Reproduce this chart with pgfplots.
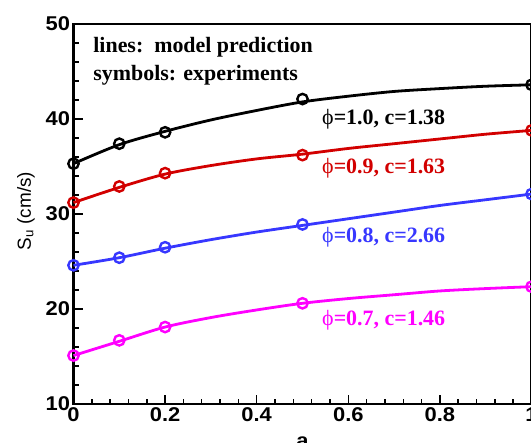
\documentclass[border=0pt]{standalone}
\usepackage{fontspec}
\setmainfont{Liberation Sans}
\newfontfamily\tnr{Liberation Serif}
\newfontfamily\sansw{Liberation Sans}[FakeStretch=1.1]
\usepackage{pgfplots}
\pgfplotsset{compat=1.18}
\definecolor{cred}{RGB}{210,0,0}
\definecolor{cblue}{RGB}{55,55,255}
\definecolor{cmag}{RGB}{255,0,255}
\begin{document}
\begin{tikzpicture}
\path[use as bounding box, clip] (0,0) rectangle (531bp,443bp);
\begin{axis}[
  at={(73.5bp,39bp)}, anchor=south west,
  width=458bp, height=380bp, scale only axis,
  xmin=0, xmax=1, ymin=10, ymax=50,
  xtick={0,0.2,0.4,0.6,0.8,1},
  ytick={10,20,30,40,50},
  minor x tick num=4, minor y tick num=4,
  xtick pos=bottom, ytick pos=left, tick align=inside,
  major tick length=9bp, minor tick length=5bp,
  every tick/.style={line width=1.5bp, black},
  axis line style={line width=2.2bp},
  clip=false,
  /pgf/number format/assume math mode=true,
  tick label style={font=\sansw\fontsize{20}{20}\selectfont\bfseries},
  xlabel={a},
  xlabel style={at={(axis description cs:0.5,0)}, anchor=north, yshift=-29bp, font=\sansw\fontsize{20}{20}\selectfont\bfseries},
  ylabel={S\textsubscript{u} (cm/s)},
  ylabel style={at={(axis description cs:-0.104,0.508)}, anchor=center, font=\fontsize{19}{19}\selectfont},
  every axis plot/.append style={line width=2.8bp},
]
% model lines
\addplot[black, smooth] coordinates {(0,35.3)(0.1,37.3)(0.2,38.7)(0.3,39.9)(0.4,40.9)(0.5,41.8)(0.6,42.4)(0.7,42.9)(0.8,43.2)(0.9,43.45)(1,43.6)};
\addplot[cred, smooth] coordinates {(0,31.2)(0.1,32.8)(0.2,34.2)(0.3,35.1)(0.4,35.8)(0.5,36.3)(0.6,36.9)(0.7,37.4)(0.8,37.9)(0.9,38.4)(1,38.8)};
\addplot[cblue, smooth] coordinates {(0,24.6)(0.1,25.4)(0.2,26.4)(0.3,27.3)(0.4,28.1)(0.5,28.8)(0.6,29.5)(0.7,30.2)(0.8,30.9)(0.9,31.5)(1,32.1)};
\addplot[cmag, smooth] coordinates {(0,15.1)(0.1,16.6)(0.2,18.1)(0.3,19.1)(0.4,19.9)(0.5,20.6)(0.6,21.1)(0.7,21.5)(0.8,21.9)(0.9,22.15)(1,22.35)};
% experiments
\addplot[black, only marks, mark=o, mark size=5.2bp, mark options={line width=2.4bp, fill=white}] coordinates {(0,35.3)(0.1,37.4)(0.2,38.6)(0.5,42.1)(1,43.6)};
\addplot[cred, only marks, mark=o, mark size=5.2bp, mark options={line width=2.4bp, fill=white}] coordinates {(0,31.2)(0.1,32.9)(0.2,34.3)(0.5,36.2)(1,38.8)};
\addplot[cblue, only marks, mark=o, mark size=5.2bp, mark options={line width=2.4bp, fill=white}] coordinates {(0,24.6)(0.1,25.4)(0.2,26.5)(0.5,28.9)(1,32.1)};
\addplot[cmag, only marks, mark=o, mark size=5.2bp, mark options={line width=2.4bp, fill=white}] coordinates {(0,15.1)(0.1,16.7)(0.2,18.1)(0.5,20.6)(1,22.35)};
% annotations
\node[anchor=base west, inner sep=0, font=\tnr\fontsize{22}{22}\selectfont\bfseries] at (axis cs:0.043,47.0) {lines:\ \ model prediction};
\node[anchor=base west, inner sep=0, font=\tnr\fontsize{22}{22}\selectfont\bfseries] at (axis cs:0.043,44.0) {symbols: experiments};
\node[anchor=base west, inner sep=0, font=\tnr\fontsize{22}{22}\selectfont\bfseries, text=black] at (axis cs:0.5426,39.37) {{\mdseries ϕ}=1.0, c=1.38};
\node[anchor=base west, inner sep=0, font=\tnr\fontsize{22}{22}\selectfont\bfseries, text=cred] at (axis cs:0.5426,34.3) {{\mdseries ϕ}=0.9, c=1.63};
\node[anchor=base west, inner sep=0, font=\tnr\fontsize{22}{22}\selectfont\bfseries, text=cblue] at (axis cs:0.5426,27.05) {{\mdseries ϕ}=0.8, c=2.66};
\node[anchor=base west, inner sep=0, font=\tnr\fontsize{22}{22}\selectfont\bfseries, text=cmag] at (axis cs:0.5426,18.3) {{\mdseries ϕ}=0.7, c=1.46};
\end{axis}
\end{tikzpicture}
\end{document}
